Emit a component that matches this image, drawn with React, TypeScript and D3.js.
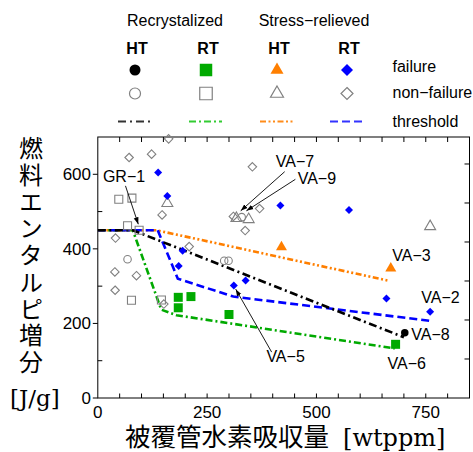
import React from "react";
import * as d3 from "d3";

// ---------- data ----------
const recHTFail: [number, number][] = [[702, 175]];
const recHTNon: [number, number][] = [[68, 372], [289, 368], [299, 368], [329, 485]];
const recRTFail: [number, number][] = [[184, 270], [184, 242], [213, 272], [300, 224], [681, 144]];
const recRTNon: [number, number][] = [[48, 533], [78, 536], [68, 462], [94.5, 450], [77, 262], [145.5, 263]];
const srHTFail: [number, number][] = [[420, 405], [670, 348]];
const srHTNon: [number, number][] = [[159, 522], [317, 482], [345, 479], [760, 460]];
const srRTFail: [number, number][] = [
  [138, 605], [159, 542], [417.5, 516], [574.5, 504], [194, 395], [185, 354],
  [338, 315], [311, 302], [660, 267], [760, 231],
];
const srRTNon: [number, number][] = [
  [162, 695], [71.6, 645], [123, 654], [353.5, 620], [147, 491], [370, 508], [337, 449],
  [40.5, 429], [209, 406], [39, 338], [88.4, 328], [39.6, 289], [151, 252], [310, 487],
];

const thrRecHT: [number, number][] = [[0, 450], [80, 450], [700, 163]];
const thrRecRT: [number, number][] = [[0, 450], [80, 450], [145, 237], [180, 222], [679, 133]];
const thrSrHT: [number, number][] = [[0, 450], [134, 450], [663, 315]];
const thrSrRT: [number, number][] = [[0, 450], [137, 450], [183, 320], [310, 272], [759, 207]];

const xTicks = [0, 250, 500, 750];
const yTicks = [0, 200, 400, 600];

const labels = [
  { text: "GR−1", x: 60, y: 593, anchor: "middle" },
  { text: "VA−7", x: 407, y: 633, anchor: "start" },
  { text: "VA−9", x: 457, y: 590, anchor: "start" },
  { text: "VA−3", x: 673.5, y: 383.5, anchor: "start" },
  { text: "VA−2", x: 739.7, y: 269, anchor: "start" },
  { text: "VA−8", x: 717, y: 169, anchor: "start" },
  { text: "VA−6", x: 662.7, y: 93, anchor: "start" },
  { text: "VA−5", x: 385.5, y: 110, anchor: "start" },
];
const arrows: [number, number, number, number][] = [
  [63.3, 569, 92.6, 466],
  [427.4, 607, 326.8, 502],
  [451.8, 586.5, 339.8, 502],
  [397.6, 123, 315.4, 292],
];

// ---------- layout ----------
const W = 473, H = 452;
const L = 97.8, R = 469.5, T = 137, B = 398;
const x = d3.scaleLinear().domain([0, 850]).range([L, R]);
const y = d3.scaleLinear().domain([0, 700]).range([B, T]);

const BLACK = "#000000", GREEN = "#00aa00", ORANGE = "#ff7f00", BLUE = "#0000ff", GRAY = "#808080";
const SANS = "'Liberation Sans', Arial, Helvetica, sans-serif";
const CJK = "'Noto Sans CJK JP', sans-serif";
const SERIF = "'DejaVu Serif', serif";

type Shape = "circle" | "square" | "triangle" | "diamond";
function shapePath(shape: Shape, s: number): string {
  if (shape === "circle") return d3.symbol(d3.symbolCircle, Math.PI * (s / 2) ** 2)()!;
  if (shape === "square") return d3.symbol(d3.symbolSquare, s * s)()!;
  if (shape === "triangle") {
    const h = (s * Math.sqrt(3)) / 2;
    return `M0,${-(2 * h) / 3}L${s / 2},${h / 3}L${-s / 2},${h / 3}Z`;
  }
  const r = s / 2;
  return `M0,${-r}L${r},0L0,${r}L${-r},0Z`;
}

const series = [
  { pts: recHTFail, shape: "circle" as Shape, fill: BLACK, stroke: "none", size: 7.5 },
  { pts: recHTNon, shape: "circle" as Shape, fill: "none", stroke: GRAY, size: 7.5 },
  { pts: recRTFail, shape: "square" as Shape, fill: GREEN, stroke: "none", size: 9 },
  { pts: recRTNon, shape: "square" as Shape, fill: "none", stroke: GRAY, size: 8 },
  { pts: srHTFail, shape: "triangle" as Shape, fill: ORANGE, stroke: "none", size: 11 },
  { pts: srHTNon, shape: "triangle" as Shape, fill: "none", stroke: GRAY, size: 11 },
  { pts: srRTFail, shape: "diamond" as Shape, fill: BLUE, stroke: "none", size: 8 },
  { pts: srRTNon, shape: "diamond" as Shape, fill: "none", stroke: GRAY, size: 8.5 },
];

const thresholds = [
  { pts: thrRecRT, color: GREEN, dash: "7,3,2,3" },
  { pts: thrSrHT, color: ORANGE, dash: "6,2.5,2,2.5,2,2.5" },
  { pts: thrSrRT, color: BLUE, dash: "8,4" },
  { pts: thrRecHT, color: BLACK, dash: "8,3.5,2,3.5" },
];

const legendCols = [135, 206, 277, 347];
const legendFail: { shape: Shape; color: string; size: number }[] = [
  { shape: "circle", color: BLACK, size: 11 },
  { shape: "square", color: GREEN, size: 12.5 },
  { shape: "triangle", color: ORANGE, size: 13 },
  { shape: "diamond", color: BLUE, size: 12 },
];
const legendLine = [
  { color: "#333", dash: "8,4,2,4" },
  { color: "#33cc33", dash: "7,3,2,3" },
  { color: "#ff8c1a", dash: "6,2.5,2,2.5,2,2.5" },
  { color: "#3333ff", dash: "8,4" },
];

const yTitle = "燃料エンタルピ増分";

export default function App() {
  const line = d3.line<[number, number]>().x((d) => x(d[0])).y((d) => y(d[1]));
  const minorX = d3.range(50, 850, 50);
  const minorY = [100, 300, 500];
  const rightTicks = d3.range(1, 7).map((k) => k * 25 * 4.184);
  return (
    <svg width={W} height={H} style={{ position: "absolute", left: 0, top: 0, background: "#fff" }}>
      <defs>
        <marker id="ah" viewBox="0 0 10 10" refX="10" refY="5" markerWidth="7" markerHeight="7" orient="auto" markerUnits="userSpaceOnUse">
          <path d="M0,1.5L10,5L0,8.5Z" fill="#000" />
        </marker>
      </defs>

      {/* legend */}
      <g fontFamily={SANS}>
        <text x={175} y={26} fontSize={16} textAnchor="middle">Recrystalized</text>
        <text x={314} y={26} fontSize={16} textAnchor="middle">Stress−relieved</text>
        {["HT", "RT", "HT", "RT"].map((t, i) => (
          <text key={i} x={legendCols[i] + 2} y={54} fontSize={16} fontWeight="bold" textAnchor="middle">{t}</text>
        ))}
        {legendFail.map((m, i) => (
          <path key={"lf" + i} d={shapePath(m.shape, m.size)} transform={`translate(${legendCols[i]},70)`} fill={m.color} />
        ))}
        {legendFail.map((m, i) => (
          <path key={"ln" + i} d={shapePath(m.shape, m.size)} transform={`translate(${legendCols[i]},93.5)`} fill="none" stroke={GRAY} strokeWidth={1.2} />
        ))}
        {legendLine.map((l, i) => (
          <line key={"ll" + i} x1={legendCols[i] - 17} x2={legendCols[i] + 16} y1={121.5} y2={121.5} stroke={l.color} strokeWidth={2.2} strokeDasharray={l.dash} />
        ))}
        <text x={392.5} y={71.5} fontSize={16}>failure</text>
        <text x={392.5} y={98} fontSize={16}>non−failure</text>
        <text x={392.5} y={127} fontSize={16}>threshold</text>
      </g>

      {/* frame */}
      <rect x={L} y={T} width={R - L} height={B - T} fill="none" stroke="#000" strokeWidth={1} />
      {minorX.map((v) => (
        <g key={"xt" + v}>
          <line x1={x(v)} x2={x(v)} y1={B} y2={B - 4.5} stroke="#000" />
          <line x1={x(v)} x2={x(v)} y1={T} y2={T + 5} stroke="#000" />
        </g>
      ))}
      {yTicks.map((v) => (
        <line key={"ytm" + v} x1={L - 5} x2={L} y1={y(v)} y2={y(v)} stroke="#000" />
      ))}
      {minorY.map((v) => (
        <line key={"ytn" + v} x1={L} x2={L + 4.5} y1={y(v)} y2={y(v)} stroke="#000" />
      ))}
      {rightTicks.map((v) => (
        <line key={"rt" + v} x1={R - 5} x2={R} y1={y(v)} y2={y(v)} stroke="#000" />
      ))}
      <g fontFamily={SANS} fontSize={17}>
        {xTicks.map((v) => (
          <text key={"xl" + v} x={x(v)} y={418} textAnchor="middle">{v}</text>
        ))}
        {yTicks.map((v) => (
          <text key={"yl" + v} x={91} y={y(v) + 6} textAnchor="end">{v}</text>
        ))}
      </g>

      {/* thresholds */}
      {thresholds.map((t, i) => (
        <path key={"th" + i} d={line(t.pts)!} fill="none" stroke={t.color} strokeWidth={2.6} strokeDasharray={t.dash} />
      ))}

      {/* points */}
      {series.map((s, i) => (
        <g key={"s" + i}>
          {s.pts.map((p, j) => (
            <path key={j} d={shapePath(s.shape, s.size)} transform={`translate(${x(p[0])},${y(p[1])})`}
              fill={s.fill} stroke={s.stroke} strokeWidth={1.1} />
          ))}
        </g>
      ))}

      {/* annotations */}
      {arrows.map((a, i) => (
        <line key={"ar" + i} x1={x(a[0])} y1={y(a[1])} x2={x(a[2])} y2={y(a[3])} stroke="#000" strokeWidth={0.9} markerEnd="url(#ah)" />
      ))}
      <g fontFamily={SANS} fontSize={16}>
        {labels.map((l, i) => (
          <text key={"lb" + i} x={x(l.x)} y={y(l.y) + 5.5} textAnchor={l.anchor as any}>{l.text}</text>
        ))}
      </g>

      {/* axis titles */}
      <text x={31} y={136} fontFamily={CJK} fontSize={24} letterSpacing={2.75}
        style={{ writingMode: "vertical-rl" as any }}>{yTitle}</text>
      <text x={10} y={406} fontFamily={SERIF} fontSize={23}>[J/g]</text>
      <text x={125} y={446} fontFamily={CJK} fontSize={25.5}>
        被覆管水素吸収量
        <tspan fontFamily={SERIF} fontSize={24} dx={14}>[wtppm]</tspan>
      </text>
    </svg>
  );
}
